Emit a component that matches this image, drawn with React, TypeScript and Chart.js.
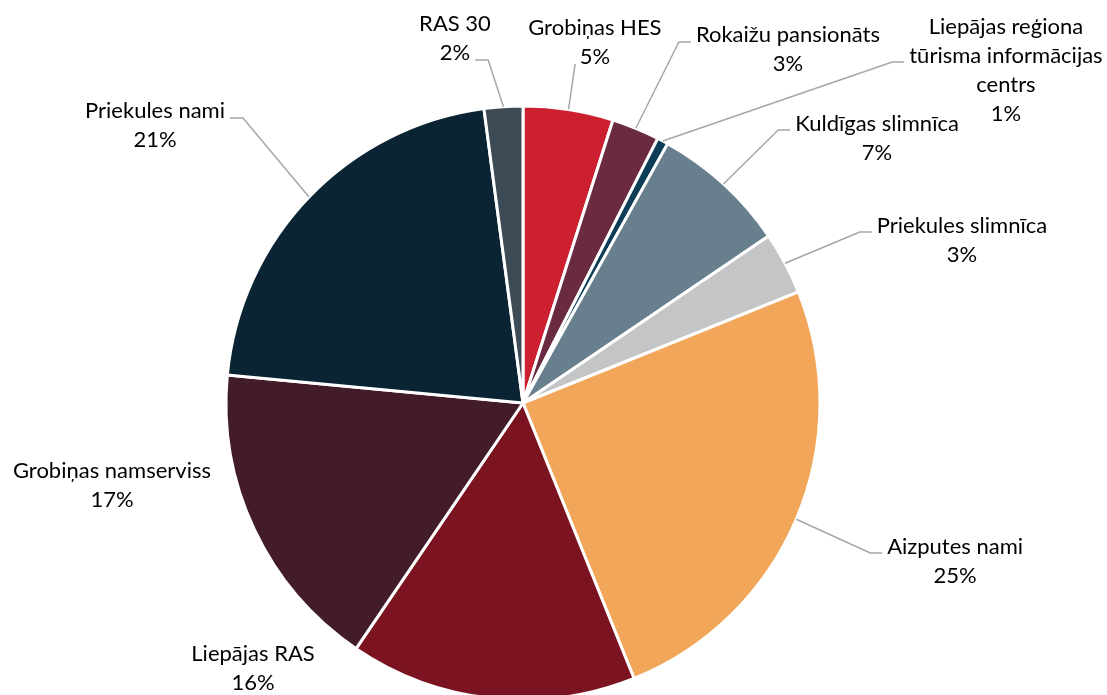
import React, { useEffect, useRef } from "react";
import { Chart, registerables } from "chart.js";

Chart.register(...registerables);

// ---- data ----
const categories = [
  "Grobiņas HES",
  "Rokaižu pansionāts",
  "Liepājas reģiona tūrisma informācijas centrs",
  "Kuldīgas slimnīca",
  "Priekules slimnīca",
  "Aizputes nami",
  "Liepājas RAS",
  "Grobiņas namserviss",
  "Priekules nami",
  "RAS 30",
];
const labelLines = [
  ["Grobiņas HES"],
  ["Rokaižu pansionāts"],
  ["Liepājas reģiona", "tūrisma informācijas", "centrs"],
  ["Kuldīgas slimnīca"],
  ["Priekules slimnīca"],
  ["Aizputes nami"],
  ["Liepājas RAS"],
  ["Grobiņas namserviss"],
  ["Priekules nami"],
  ["RAS 30"],
];
const shares = [4.9, 2.6, 0.6, 7.4, 3.4, 25.0, 15.6, 17.0, 21.4, 2.1];
const colors = [
  "#CC1F2F",
  "#6A2B40",
  "#0E3D57",
  "#687F8D",
  "#C3C5C7",
  "#F2A65A",
  "#7B1420",
  "#421C29",
  "#0A2434",
  "#3C4B56",
];

// label placement relative to pie centre, in radius units; leader anchor side
type Lay = { lx: number; ly: number; side: "left" | "right" | "bottom" | "none"; dy: number; widthOf: "max" | "last" };
const labelLayout: Lay[] = [
  { lx: 0.242, ly: -1.215, side: "bottom", dy: 22, widthOf: "max" },
  { lx: 0.892, ly: -1.192, side: "left", dy: -7, widthOf: "max" },
  { lx: 1.626, ly: -1.121, side: "left", dy: -8, widthOf: "max" },
  { lx: 1.192, ly: -0.892, side: "left", dy: -8, widthOf: "max" },
  { lx: 1.478, ly: -0.549, side: "left", dy: -8, widthOf: "max" },
  { lx: 1.455, ly: 0.535, side: "left", dy: -9, widthOf: "max" },
  { lx: -0.909, ly: 0.892, side: "none", dy: 0, widthOf: "max" },
  { lx: -1.384, ly: 0.276, side: "none", dy: 0, widthOf: "max" },
  { lx: -1.239, ly: -0.933, side: "right", dy: -8, widthOf: "max" },
  { lx: -0.229, ly: -1.229, side: "right", dy: 22, widthOf: "last" },
];

const FONT = "22px Lato";
const LINE_H = 29;

const outLabels = {
  id: "outLabels",
  afterDatasetsDraw(chart: any) {
    const ctx = chart.ctx as CanvasRenderingContext2D;
    const meta = chart.getDatasetMeta(0);
    const data = chart.data.datasets[0].data as number[];
    const total = data.reduce((a, b) => a + b, 0);
    ctx.save();
    ctx.font = FONT;
    meta.data.forEach((arc: any, i: number) => {
      const p = arc.getProps(["x", "y", "startAngle", "endAngle", "outerRadius"], true);
      const R = p.outerRadius;
      const lay = labelLayout[i];
      const cx = p.x + lay.lx * R;
      const cy = p.y + lay.ly * R;
      const pct = Math.round((data[i] / total) * 100) + "%";
      const lines = [...labelLines[i], pct];
      const top = cy - (LINE_H * lines.length) / 2;
      ctx.fillStyle = "#000000";
      ctx.textAlign = "center";
      ctx.textBaseline = "middle";
      lines.forEach((t, k) => ctx.fillText(t, cx, top + LINE_H * (k + 0.5)));
      if (lay.side === "none") return;
      const widths = lines.map((t) => ctx.measureText(t).width);
      const w = lay.widthOf === "last" ? widths[widths.length - 1] : Math.max(...widths);
      const mid = (p.startAngle + p.endAngle) / 2;
      const sx = p.x + Math.cos(mid) * R;
      const sy = p.y + Math.sin(mid) * R;
      const ey = cy + lay.dy;
      ctx.strokeStyle = "#A6A6A6";
      ctx.lineWidth = 1.5;
      ctx.beginPath();
      ctx.moveTo(sx, sy);
      if (lay.side === "left") {
        const ex = cx - w / 2 - 5;
        ctx.lineTo(ex - 12, ey);
        ctx.lineTo(ex, ey);
      } else if (lay.side === "right") {
        const ex = cx + w / 2 + 5;
        ctx.lineTo(ex + 13, ey);
        ctx.lineTo(ex, ey);
      } else {
        const ex = sx + (cx - sx) * 0.25;
        ctx.lineTo(ex, ey);
      }
      ctx.stroke();
    });
    ctx.restore();
  },
};

export default function App() {
  const ref = useRef<HTMLCanvasElement | null>(null);
  useEffect(() => {
    if (!ref.current) return;
    const chart = new Chart(ref.current, {
      type: "pie",
      data: {
        labels: categories,
        datasets: [
          {
            data: shares,
            backgroundColor: colors,
            borderColor: "#ffffff",
            borderWidth: 3,
          },
        ],
      },
      options: {
        responsive: false,
        animation: false,
        layout: { padding: { left: 224.5, top: 104.5, right: 285.5, bottom: 8.5 } },
        plugins: {
          legend: { display: false },
          tooltip: { enabled: false },
        },
      },
      plugins: [outLabels],
    });
    return () => chart.destroy();
  }, []);
  return (
    <div style={{ position: "fixed", left: 0, top: 0, width: 1107, height: 710, background: "#fff" }}>
      <canvas ref={ref} width={1107} height={710} style={{ display: "block" }} />
    </div>
  );
}
